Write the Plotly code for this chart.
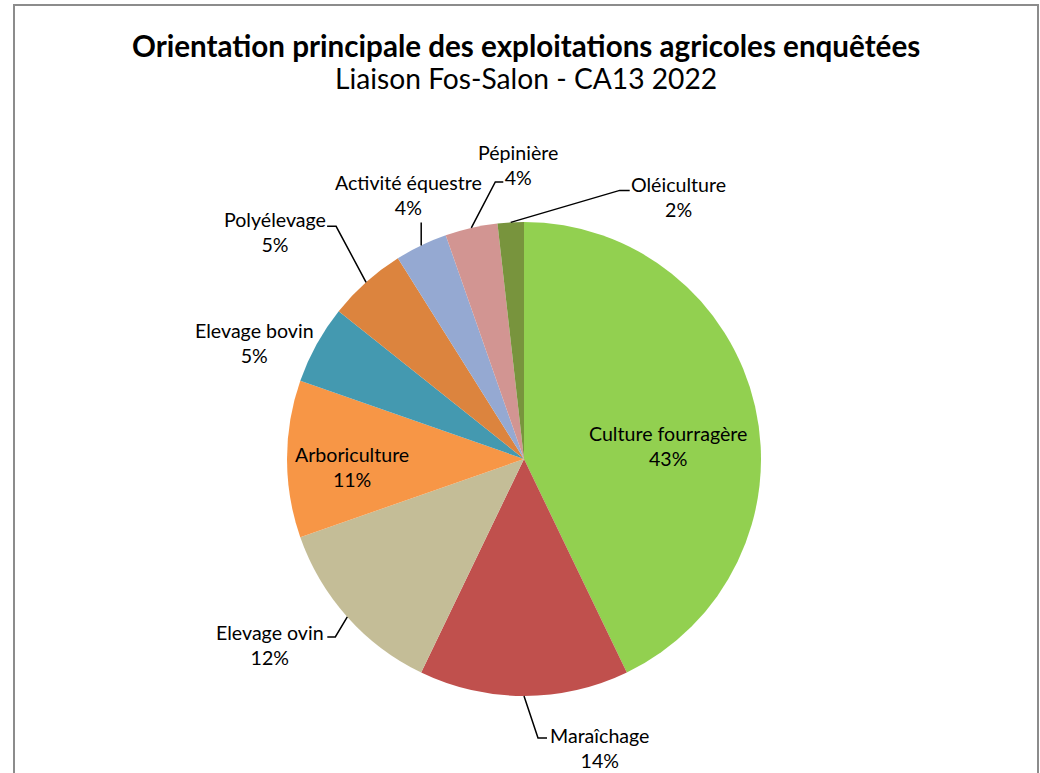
import numpy as np
import plotly.graph_objects as go

# ---- data ----
categories = ["Culture fourragère", "Maraîchage", "Elevage ovin", "Arboriculture",
              "Elevage bovin", "Polyélevage", "Activité équestre", "Pépinière", "Oléiculture"]
counts = [24, 8, 7, 6, 3, 3, 2, 2, 1]
pct_labels = ["43%", "14%", "12%", "11%", "5%", "5%", "4%", "4%", "2%"]

title_text = "Orientation principale des exploitations agricoles enquêtées"
subtitle_text = "Liaison Fos-Salon - CA13 2022"

# ---- style ----
colors = ["#92D050", "#C0504D", "#C4BD97", "#F79646", "#4499B0",
          "#DC843E", "#95A9D2", "#D29592", "#78943D"]
W, H = 1040, 773
CX, CY, R = 524, 459, 237
FONT = "Lato"
LABEL_SIZE = 19.6

# label placement: text offset from anchor (edge midpoint for outside, centre for inside),
# leader polyline offsets from the edge midpoint
label_style = {
    "Culture fourragère": dict(inside=True, off=(144, -13), leader=None),
    "Maraîchage": dict(inside=False, off=(75, 52), leader=[(0, 0), (14, 42), (23, 42)]),
    "Elevage ovin": dict(inside=False, off=(-77, 28), leader=[(0, 0), (-12, 20), (-20, 20)]),
    "Arboriculture": dict(inside=True, off=(-172, 8), leader=None),
    "Elevage bovin": dict(inside=False, off=(-62, -1), leader=None),
    "Polyélevage": dict(inside=False, off=(-91, -50), leader=[(0, 0), (-30, -56), (-39, -56)]),
    "Activité équestre": dict(inside=False, off=(-13, -50), leader=[(0, 0), (0, -23)]),
    "Pépinière": dict(inside=False, off=(47, -63), leader=[(0, 0), (24, -46), (32, -46)]),
    "Oléiculture": dict(inside=False, off=(168, -25), leader=[(0, 0), (109, -32), (119, -32)]),
}

fig = go.Figure()
fig.add_trace(go.Pie(
    labels=categories, values=counts, sort=False, direction="clockwise", rotation=0,
    marker=dict(colors=colors, line=dict(width=0)),
    textinfo="none", hoverinfo="label+percent", showlegend=False,
    domain=dict(x=[(CX - R) / W, (CX + R) / W],
                y=[(H - CY - R) / H, (H - CY + R) / H]),
))

# invisible pixel axes (page coordinates) for annotations / shapes
fig.add_trace(go.Scatter(x=[0, W], y=[0, H], mode="markers",
                         marker=dict(opacity=0), showlegend=False, hoverinfo="skip"))

total = sum(counts)
cum = np.cumsum([0] + counts)
annotations = []
shapes = []
for i, cat in enumerate(categories):
    mid = (cum[i] + cum[i + 1]) / 2 / total * 2 * np.pi
    ex = CX + R * np.sin(mid)
    ey = CY - R * np.cos(mid)
    st = label_style[cat]
    if st["inside"]:
        ax, ay = CX + st["off"][0], CY + st["off"][1]
    else:
        ax, ay = ex + st["off"][0], ey + st["off"][1]
    annotations.append(dict(x=ax, y=ay, xref="x", yref="y", showarrow=False,
                            text=f"{cat}<br>{pct_labels[i]}", align="center",
                            font=dict(family=FONT, size=LABEL_SIZE, color="#000000")))
    if st["leader"]:
        pts = [(ex + dx, ey + dy) for dx, dy in st["leader"]]
        path = "M " + " L ".join(f"{px:.1f},{py:.1f}" for px, py in pts)
        shapes.append(dict(type="path", path=path, xref="x", yref="y",
                           line=dict(color="#000000", width=1.5)))

annotations.append(dict(x=526, y=45, xref="x", yref="y", showarrow=False,
                        text=f"<b>{title_text}</b>",
                        font=dict(family=FONT, size=29.6, color="#000000")))
annotations.append(dict(x=526, y=78, xref="x", yref="y", showarrow=False,
                        text=subtitle_text,
                        font=dict(family=FONT, size=28.2, color="#000000")))

shapes.append(dict(type="rect", xref="x", yref="y", x0=14, x1=1038, y0=5, y1=800,
                   line=dict(color="#8C8C8C", width=2), fillcolor="rgba(0,0,0,0)"))

fig.update_layout(
    width=W, height=H, margin=dict(l=0, r=0, t=0, b=0),
    paper_bgcolor="white", plot_bgcolor="rgba(0,0,0,0)",
    xaxis=dict(range=[0, W], visible=False, fixedrange=True),
    yaxis=dict(range=[H, 0], visible=False, fixedrange=True),
    annotations=annotations, shapes=shapes,
)
fig.write_html("out.html", config={"displayModeBar": False},
               post_script="document.body.style.margin='0';document.body.style.overflow='hidden';")
